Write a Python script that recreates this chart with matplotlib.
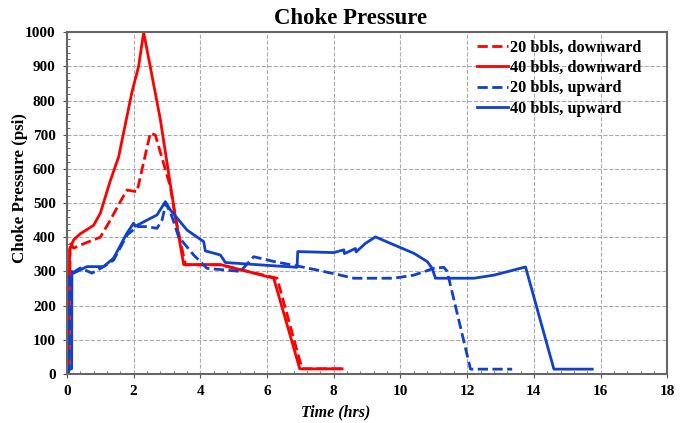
import matplotlib
matplotlib.use("Agg")
import matplotlib.pyplot as plt
from matplotlib.ticker import MultipleLocator

plt.rcParams['font.family'] = ['Liberation Serif', 'DejaVu Serif']
plt.rcParams['font.weight'] = 'bold'

# 20 bbls, downward
t_20_down = [0.0, 0.06, 0.1, 0.2, 0.4, 1.0, 1.3, 1.6, 1.8, 2.1, 2.5, 2.65, 3.1, 3.25, 3.55,
             4.6, 6.3, 7.05, 8.25]
p_20_down = [0, 10, 385, 368, 377, 400, 450, 504, 538, 533, 705, 699, 548, 460, 319,
             319, 280, 15, 15]

# 40 bbls, downward
t_40_down = [0.0, 0.05, 0.08, 0.2, 0.4, 0.8, 1.0, 1.3, 1.55, 1.95, 2.15, 2.3, 2.8, 3.25,
             3.5, 4.6, 6.2, 6.98, 8.25]
p_40_down = [0, 5, 365, 392, 410, 435, 470, 565, 635, 825, 900, 1000, 745, 460,
             320, 320, 280, 15, 15]

# 20 bbls, upward
t_20_up = [0.0, 0.06, 0.08, 0.4, 0.75, 1.1, 1.4, 1.8, 2.1, 2.4, 2.7, 2.85, 2.97, 3.15, 3.35,
           3.8, 4.2, 5.2, 5.6, 6.2, 7.0, 7.5, 8.2, 8.6, 9.8, 10.4, 11.0, 11.3, 11.4,
           12.1, 13.35]
p_20_up = [0, 10, 290, 310, 295, 314, 333, 406, 431, 431, 426, 450, 499, 460, 401,
           348, 309, 300, 343, 329, 314, 304, 289, 280, 280, 289, 309, 312, 300,
           14, 14]

# 40 bbls, upward
t_40_up = [0.0, 0.03, 0.14, 0.15, 0.2, 0.6, 1.1, 1.4, 1.8, 2.0, 2.05, 2.4, 2.7, 2.95, 3.1,
           3.6, 4.1, 4.15, 4.6, 4.75, 5.8, 6.9, 6.92, 8.0, 8.3, 8.32, 8.65, 8.67, 8.95,
           9.25, 9.7, 10.4, 10.8, 10.95, 11.05, 12.2, 12.8, 13.75, 14.6, 15.75]
p_40_up = [0, 15, 15, 300, 295, 314, 314, 339, 412, 441, 432, 450, 465, 504, 480,
           421, 387, 360, 348, 326, 319, 312, 358, 355, 363, 352, 367, 357, 382,
           401, 382, 353, 329, 309, 280, 280, 289, 313, 14, 14]

red = '#FF0000'
blue = '#1040CC'

fig = plt.figure(figsize=(6.83, 4.23), dpi=100)
ax = fig.add_axes([0.098, 0.116, 0.879, 0.808])

ax.plot(t_20_down, p_20_down, color=red, linestyle='--', linewidth=2, label='20 bbls, downward')
ax.plot(t_40_down, p_40_down, color=red, linestyle='-', linewidth=2, label='40 bbls, downward')
ax.plot(t_20_up, p_20_up, color=blue, linestyle='--', linewidth=2, label='20 bbls, upward')
ax.plot(t_40_up, p_40_up, color=blue, linestyle='-', linewidth=2, label='40 bbls, upward')

ax.set_xlim(0, 18)
ax.set_ylim(0, 1000)
ax.xaxis.set_major_locator(MultipleLocator(2))
ax.xaxis.set_minor_locator(MultipleLocator(0.4))
ax.yaxis.set_major_locator(MultipleLocator(100))
ax.yaxis.set_minor_locator(MultipleLocator(20))
ax.tick_params(which='both', colors='#555555', labelcolor='black', labelsize=11)
ax.tick_params(which='major', direction='out', length=3, pad=5)
ax.tick_params(which='minor', direction='in', length=2.5)
for lab in ax.get_xticklabels() + ax.get_yticklabels():
    lab.set_fontweight('bold')

ax.grid(True, which='major', color='#AAAAAA', linestyle='--', linewidth=0.8)
for s in ax.spines.values():
    s.set_color('#666666')
    s.set_linewidth(1.5)

# titolo ed etichette (leggermente spostati come nell'originale)
ax.set_title('Choke Pressure', fontsize=16.4, fontweight='bold', x=0.473, pad=6)
ax.set_ylabel('Choke Pressure (psi)', fontsize=12.2, fontweight='bold')
ax.yaxis.set_label_coords(-0.065, 0.544)
ax.set_xlabel('Time (hrs)', fontsize=11.5, fontweight='bold', style='italic')
ax.xaxis.set_label_coords(0.448, -0.09)

ax.legend(loc='upper left', bbox_to_anchor=(0.683, 0.978), frameon=False,
          handlelength=1.9, handletextpad=0.15, labelspacing=0.27,
          borderpad=0, borderaxespad=0,
          prop={'weight': 'bold', 'size': 11.7})

fig.savefig('out.png', dpi=100)
